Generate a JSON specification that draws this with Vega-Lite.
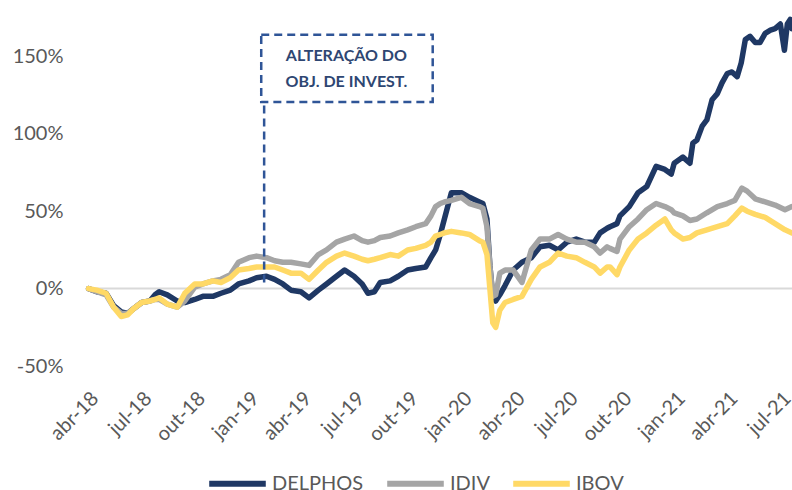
{
"$schema": "https://vega.github.io/schema/vega-lite/v6.json",
"width": 704, "height": 366,
"autosize": {"type": "none"},
"padding": {"left": 88, "top": 0, "right": 0, "bottom": 124},
"background": "white",
"config": {"font": "Lato", "view": {"stroke": null},
  "axis": {"labelFont": "Lato", "labelFontSize": 20, "labelColor": "#595959", "domain": false, "ticks": false, "grid": false}},
"data": {"values": [
{"d":"2018/04/02","s":"DELPHOS","v":0},{"d":"2018/04/16","s":"DELPHOS","v":-2},{"d":"2018/05/02","s":"DELPHOS","v":-3},{"d":"2018/05/15","s":"DELPHOS","v":-11},{"d":"2018/05/28","s":"DELPHOS","v":-15},{"d":"2018/06/08","s":"DELPHOS","v":-16},{"d":"2018/06/18","s":"DELPHOS","v":-13},{"d":"2018/07/02","s":"DELPHOS","v":-9},{"d":"2018/07/16","s":"DELPHOS","v":-8},{"d":"2018/07/25","s":"DELPHOS","v":-4},{"d":"2018/08/01","s":"DELPHOS","v":-2},{"d":"2018/08/15","s":"DELPHOS","v":-4},{"d":"2018/09/01","s":"DELPHOS","v":-8},{"d":"2018/09/14","s":"DELPHOS","v":-9},{"d":"2018/10/01","s":"DELPHOS","v":-7},{"d":"2018/10/15","s":"DELPHOS","v":-5},{"d":"2018/11/01","s":"DELPHOS","v":-5},{"d":"2018/11/15","s":"DELPHOS","v":-3},{"d":"2018/12/01","s":"DELPHOS","v":-1},{"d":"2018/12/15","s":"DELPHOS","v":3},{"d":"2019/01/02","s":"DELPHOS","v":5},{"d":"2019/01/15","s":"DELPHOS","v":7},{"d":"2019/02/01","s":"DELPHOS","v":8},{"d":"2019/02/15","s":"DELPHOS","v":6},{"d":"2019/03/01","s":"DELPHOS","v":3},{"d":"2019/03/15","s":"DELPHOS","v":-1},{"d":"2019/04/01","s":"DELPHOS","v":-2},{"d":"2019/04/15","s":"DELPHOS","v":-6},{"d":"2019/05/01","s":"DELPHOS","v":-1},{"d":"2019/05/15","s":"DELPHOS","v":3},{"d":"2019/06/01","s":"DELPHOS","v":8},{"d":"2019/06/15","s":"DELPHOS","v":12},{"d":"2019/07/01","s":"DELPHOS","v":8},{"d":"2019/07/15","s":"DELPHOS","v":3},{"d":"2019/07/25","s":"DELPHOS","v":-3},{"d":"2019/08/05","s":"DELPHOS","v":-2},{"d":"2019/08/15","s":"DELPHOS","v":4},{"d":"2019/09/01","s":"DELPHOS","v":5},{"d":"2019/09/15","s":"DELPHOS","v":8},{"d":"2019/10/01","s":"DELPHOS","v":12},{"d":"2019/10/15","s":"DELPHOS","v":13},{"d":"2019/11/01","s":"DELPHOS","v":14},{"d":"2019/11/10","s":"DELPHOS","v":20},{"d":"2019/11/18","s":"DELPHOS","v":25},{"d":"2019/11/26","s":"DELPHOS","v":35},{"d":"2019/12/03","s":"DELPHOS","v":45},{"d":"2019/12/15","s":"DELPHOS","v":62},{"d":"2020/01/01","s":"DELPHOS","v":62},{"d":"2020/01/15","s":"DELPHOS","v":59},{"d":"2020/02/01","s":"DELPHOS","v":56},{"d":"2020/02/07","s":"DELPHOS","v":55},{"d":"2020/02/14","s":"DELPHOS","v":45},{"d":"2020/02/19","s":"DELPHOS","v":15},{"d":"2020/02/24","s":"DELPHOS","v":-5},{"d":"2020/02/29","s":"DELPHOS","v":-8},{"d":"2020/03/07","s":"DELPHOS","v":-4},{"d":"2020/03/16","s":"DELPHOS","v":2},{"d":"2020/03/30","s":"DELPHOS","v":12},{"d":"2020/04/14","s":"DELPHOS","v":17},{"d":"2020/04/30","s":"DELPHOS","v":20},{"d":"2020/05/15","s":"DELPHOS","v":27},{"d":"2020/05/31","s":"DELPHOS","v":28},{"d":"2020/06/15","s":"DELPHOS","v":25},{"d":"2020/06/30","s":"DELPHOS","v":30},{"d":"2020/07/16","s":"DELPHOS","v":32},{"d":"2020/07/31","s":"DELPHOS","v":30},{"d":"2020/08/16","s":"DELPHOS","v":30},{"d":"2020/08/26","s":"DELPHOS","v":36},{"d":"2020/09/07","s":"DELPHOS","v":39},{"d":"2020/09/12","s":"DELPHOS","v":40},{"d":"2020/09/24","s":"DELPHOS","v":42},{"d":"2020/09/29","s":"DELPHOS","v":47},{"d":"2020/10/15","s":"DELPHOS","v":53},{"d":"2020/10/30","s":"DELPHOS","v":62},{"d":"2020/11/14","s":"DELPHOS","v":66},{"d":"2020/11/30","s":"DELPHOS","v":79},{"d":"2020/12/15","s":"DELPHOS","v":77},{"d":"2020/12/26","s":"DELPHOS","v":74},{"d":"2020/12/31","s":"DELPHOS","v":81},{"d":"2021/01/15","s":"DELPHOS","v":85},{"d":"2021/01/27","s":"DELPHOS","v":81},{"d":"2021/02/01","s":"DELPHOS","v":94},{"d":"2021/02/08","s":"DELPHOS","v":96},{"d":"2021/02/17","s":"DELPHOS","v":105},{"d":"2021/02/25","s":"DELPHOS","v":109},{"d":"2021/03/06","s":"DELPHOS","v":122},{"d":"2021/03/15","s":"DELPHOS","v":126},{"d":"2021/03/23","s":"DELPHOS","v":133},{"d":"2021/04/01","s":"DELPHOS","v":139},{"d":"2021/04/09","s":"DELPHOS","v":140},{"d":"2021/04/18","s":"DELPHOS","v":137},{"d":"2021/04/25","s":"DELPHOS","v":146},{"d":"2021/05/02","s":"DELPHOS","v":161},{"d":"2021/05/10","s":"DELPHOS","v":163},{"d":"2021/05/19","s":"DELPHOS","v":159},{"d":"2021/05/27","s":"DELPHOS","v":159},{"d":"2021/06/05","s":"DELPHOS","v":165},{"d":"2021/06/14","s":"DELPHOS","v":167},{"d":"2021/06/22","s":"DELPHOS","v":168},{"d":"2021/07/01","s":"DELPHOS","v":171},{"d":"2021/07/08","s":"DELPHOS","v":154},{"d":"2021/07/13","s":"DELPHOS","v":171},{"d":"2021/07/18","s":"DELPHOS","v":174},{"d":"2021/07/21","s":"DELPHOS","v":168},
{"d":"2018/04/02","s":"IDIV","v":0},{"d":"2018/04/16","s":"IDIV","v":-2},{"d":"2018/05/02","s":"IDIV","v":-4},{"d":"2018/05/15","s":"IDIV","v":-12},{"d":"2018/05/28","s":"IDIV","v":-16},{"d":"2018/06/08","s":"IDIV","v":-16},{"d":"2018/06/18","s":"IDIV","v":-13},{"d":"2018/07/02","s":"IDIV","v":-9},{"d":"2018/07/16","s":"IDIV","v":-8},{"d":"2018/07/25","s":"IDIV","v":-7},{"d":"2018/08/01","s":"IDIV","v":-7},{"d":"2018/08/15","s":"IDIV","v":-10},{"d":"2018/09/01","s":"IDIV","v":-12},{"d":"2018/09/14","s":"IDIV","v":-8},{"d":"2018/10/01","s":"IDIV","v":1},{"d":"2018/10/15","s":"IDIV","v":3},{"d":"2018/11/01","s":"IDIV","v":5},{"d":"2018/11/15","s":"IDIV","v":6},{"d":"2018/12/01","s":"IDIV","v":9},{"d":"2018/12/15","s":"IDIV","v":17},{"d":"2019/01/02","s":"IDIV","v":20},{"d":"2019/01/15","s":"IDIV","v":21},{"d":"2019/02/01","s":"IDIV","v":20},{"d":"2019/02/15","s":"IDIV","v":18},{"d":"2019/03/01","s":"IDIV","v":17},{"d":"2019/03/15","s":"IDIV","v":17},{"d":"2019/04/01","s":"IDIV","v":16},{"d":"2019/04/15","s":"IDIV","v":15},{"d":"2019/05/01","s":"IDIV","v":22},{"d":"2019/05/15","s":"IDIV","v":25},{"d":"2019/06/01","s":"IDIV","v":30},{"d":"2019/06/15","s":"IDIV","v":32},{"d":"2019/07/01","s":"IDIV","v":34},{"d":"2019/07/15","s":"IDIV","v":31},{"d":"2019/07/25","s":"IDIV","v":30},{"d":"2019/08/05","s":"IDIV","v":31},{"d":"2019/08/15","s":"IDIV","v":33},{"d":"2019/09/01","s":"IDIV","v":34},{"d":"2019/09/15","s":"IDIV","v":36},{"d":"2019/10/01","s":"IDIV","v":38},{"d":"2019/10/15","s":"IDIV","v":40},{"d":"2019/11/01","s":"IDIV","v":42},{"d":"2019/11/10","s":"IDIV","v":47},{"d":"2019/11/18","s":"IDIV","v":53},{"d":"2019/11/26","s":"IDIV","v":55},{"d":"2019/12/03","s":"IDIV","v":56},{"d":"2019/12/15","s":"IDIV","v":57},{"d":"2020/01/01","s":"IDIV","v":59},{"d":"2020/01/15","s":"IDIV","v":55},{"d":"2020/02/01","s":"IDIV","v":53},{"d":"2020/02/07","s":"IDIV","v":52},{"d":"2020/02/14","s":"IDIV","v":40},{"d":"2020/02/19","s":"IDIV","v":15},{"d":"2020/02/24","s":"IDIV","v":-5},{"d":"2020/02/29","s":"IDIV","v":-4},{"d":"2020/03/07","s":"IDIV","v":10},{"d":"2020/03/16","s":"IDIV","v":12},{"d":"2020/03/30","s":"IDIV","v":12},{"d":"2020/04/14","s":"IDIV","v":4},{"d":"2020/04/30","s":"IDIV","v":25},{"d":"2020/05/15","s":"IDIV","v":32},{"d":"2020/05/31","s":"IDIV","v":32},{"d":"2020/06/15","s":"IDIV","v":35},{"d":"2020/06/30","s":"IDIV","v":32},{"d":"2020/07/16","s":"IDIV","v":30},{"d":"2020/07/31","s":"IDIV","v":30},{"d":"2020/08/16","s":"IDIV","v":27},{"d":"2020/08/26","s":"IDIV","v":23},{"d":"2020/09/07","s":"IDIV","v":27},{"d":"2020/09/12","s":"IDIV","v":26},{"d":"2020/09/24","s":"IDIV","v":24},{"d":"2020/09/29","s":"IDIV","v":32},{"d":"2020/10/15","s":"IDIV","v":40},{"d":"2020/10/30","s":"IDIV","v":45},{"d":"2020/11/14","s":"IDIV","v":51},{"d":"2020/11/30","s":"IDIV","v":55},{"d":"2020/12/15","s":"IDIV","v":53},{"d":"2020/12/26","s":"IDIV","v":51},{"d":"2020/12/31","s":"IDIV","v":49},{"d":"2021/01/15","s":"IDIV","v":47},{"d":"2021/01/27","s":"IDIV","v":44},{"d":"2021/02/08","s":"IDIV","v":45},{"d":"2021/02/25","s":"IDIV","v":49},{"d":"2021/03/15","s":"IDIV","v":53},{"d":"2021/04/01","s":"IDIV","v":55},{"d":"2021/04/14","s":"IDIV","v":57},{"d":"2021/04/26","s":"IDIV","v":65},{"d":"2021/05/05","s":"IDIV","v":63},{"d":"2021/05/19","s":"IDIV","v":58},{"d":"2021/06/05","s":"IDIV","v":56},{"d":"2021/06/22","s":"IDIV","v":54},{"d":"2021/07/09","s":"IDIV","v":51},{"d":"2021/07/21","s":"IDIV","v":53},
{"d":"2018/04/02","s":"IBOV","v":0},{"d":"2018/04/16","s":"IBOV","v":-1},{"d":"2018/05/02","s":"IBOV","v":-3},{"d":"2018/05/15","s":"IBOV","v":-12},{"d":"2018/05/28","s":"IBOV","v":-18},{"d":"2018/06/08","s":"IBOV","v":-17},{"d":"2018/06/18","s":"IBOV","v":-13},{"d":"2018/07/02","s":"IBOV","v":-9},{"d":"2018/07/16","s":"IBOV","v":-8},{"d":"2018/07/25","s":"IBOV","v":-7},{"d":"2018/08/01","s":"IBOV","v":-6},{"d":"2018/08/15","s":"IBOV","v":-10},{"d":"2018/09/01","s":"IBOV","v":-12},{"d":"2018/09/14","s":"IBOV","v":-3},{"d":"2018/10/01","s":"IBOV","v":3},{"d":"2018/10/15","s":"IBOV","v":3},{"d":"2018/11/01","s":"IBOV","v":5},{"d":"2018/11/15","s":"IBOV","v":4},{"d":"2018/12/01","s":"IBOV","v":7},{"d":"2018/12/15","s":"IBOV","v":12},{"d":"2019/01/02","s":"IBOV","v":13},{"d":"2019/01/15","s":"IBOV","v":14},{"d":"2019/02/01","s":"IBOV","v":14},{"d":"2019/02/15","s":"IBOV","v":14},{"d":"2019/03/01","s":"IBOV","v":12},{"d":"2019/03/15","s":"IBOV","v":10},{"d":"2019/04/01","s":"IBOV","v":10},{"d":"2019/04/15","s":"IBOV","v":6},{"d":"2019/05/01","s":"IBOV","v":12},{"d":"2019/05/15","s":"IBOV","v":17},{"d":"2019/06/01","s":"IBOV","v":21},{"d":"2019/06/15","s":"IBOV","v":23},{"d":"2019/07/01","s":"IBOV","v":21},{"d":"2019/07/15","s":"IBOV","v":19},{"d":"2019/07/25","s":"IBOV","v":18},{"d":"2019/08/05","s":"IBOV","v":19},{"d":"2019/08/15","s":"IBOV","v":20},{"d":"2019/09/01","s":"IBOV","v":22},{"d":"2019/09/15","s":"IBOV","v":21},{"d":"2019/10/01","s":"IBOV","v":25},{"d":"2019/10/15","s":"IBOV","v":26},{"d":"2019/11/01","s":"IBOV","v":28},{"d":"2019/11/10","s":"IBOV","v":30},{"d":"2019/11/18","s":"IBOV","v":34},{"d":"2019/11/26","s":"IBOV","v":35},{"d":"2019/12/03","s":"IBOV","v":36},{"d":"2019/12/15","s":"IBOV","v":37},{"d":"2020/01/01","s":"IBOV","v":36},{"d":"2020/01/15","s":"IBOV","v":35},{"d":"2020/02/01","s":"IBOV","v":31},{"d":"2020/02/07","s":"IBOV","v":30},{"d":"2020/02/14","s":"IBOV","v":22},{"d":"2020/02/19","s":"IBOV","v":0},{"d":"2020/02/24","s":"IBOV","v":-22},{"d":"2020/02/29","s":"IBOV","v":-25},{"d":"2020/03/07","s":"IBOV","v":-14},{"d":"2020/03/16","s":"IBOV","v":-9},{"d":"2020/03/30","s":"IBOV","v":-7},{"d":"2020/04/14","s":"IBOV","v":-5},{"d":"2020/04/30","s":"IBOV","v":6},{"d":"2020/05/15","s":"IBOV","v":14},{"d":"2020/05/31","s":"IBOV","v":17},{"d":"2020/06/15","s":"IBOV","v":23},{"d":"2020/06/30","s":"IBOV","v":21},{"d":"2020/07/16","s":"IBOV","v":20},{"d":"2020/07/31","s":"IBOV","v":17},{"d":"2020/08/16","s":"IBOV","v":14},{"d":"2020/08/26","s":"IBOV","v":10},{"d":"2020/09/07","s":"IBOV","v":14},{"d":"2020/09/12","s":"IBOV","v":14},{"d":"2020/09/24","s":"IBOV","v":9},{"d":"2020/09/29","s":"IBOV","v":14},{"d":"2020/10/15","s":"IBOV","v":25},{"d":"2020/10/30","s":"IBOV","v":32},{"d":"2020/11/14","s":"IBOV","v":36},{"d":"2020/11/30","s":"IBOV","v":41},{"d":"2020/12/15","s":"IBOV","v":45},{"d":"2020/12/26","s":"IBOV","v":38},{"d":"2020/12/31","s":"IBOV","v":36},{"d":"2021/01/15","s":"IBOV","v":32},{"d":"2021/01/27","s":"IBOV","v":33},{"d":"2021/02/08","s":"IBOV","v":36},{"d":"2021/02/25","s":"IBOV","v":38},{"d":"2021/03/15","s":"IBOV","v":40},{"d":"2021/04/01","s":"IBOV","v":42},{"d":"2021/04/14","s":"IBOV","v":47},{"d":"2021/04/26","s":"IBOV","v":52},{"d":"2021/05/05","s":"IBOV","v":50},{"d":"2021/05/19","s":"IBOV","v":48},{"d":"2021/06/05","s":"IBOV","v":46},{"d":"2021/06/22","s":"IBOV","v":42},{"d":"2021/07/09","s":"IBOV","v":38},{"d":"2021/07/21","s":"IBOV","v":36}
]},
"layer": [
{"data": {"values": [{"z": 0}]},
 "mark": {"type": "rule", "stroke": "#D9D9D9", "strokeWidth": 2},
 "encoding": {"y": {"field": "z", "type": "quantitative", "scale": {"domain": [-50, 186.5], "nice": false, "zero": false}, "axis": {"title": null}}}},
{"transform": [{"filter": "datum.s === 'DELPHOS'"}],
 "mark": {"type": "line", "strokeWidth": 5.5, "strokeJoin": "round", "strokeCap": "round"},
 "encoding": {
  "x": {"field": "d", "type": "temporal", "scale": {"domain": [{"year": 2018, "month": 4, "date": 1}, {"year": 2021, "month": 7, "date": 21}]},
        "axis": {"title": null, "tickCount": {"interval": "month", "step": 3}, "labelAngle": -45, "labelPadding": 22, "labelDx": -3, "labelFlush": false, "labelOverlap": false, "labelBound": false,
                 "labelExpr": "['jan','fev','mar','abr','mai','jun','jul','ago','set','out','nov','dez'][month(datum.value)] + '-' + timeFormat(datum.value, '%y')"}},
  "y": {"field": "v", "type": "quantitative", "scale": {"domain": [-50, 186.5], "nice": false, "zero": false},
        "axis": {"title": null, "values": [-50, 0, 50, 100, 150], "labelExpr": "datum.value + '%'", "labelPadding": 25}},
  "color": {"field": "s", "type": "nominal", "scale": {"domain": ["DELPHOS", "IDIV", "IBOV"], "range": ["#1F3864", "#A5A5A5", "#FFD966"]},
        "legend": {"orient": "none", "legendX": 118, "legendY": 452, "direction": "horizontal", "title": null, "symbolType": "stroke", "symbolStrokeWidth": 6, "symbolSize": 3200, "labelFontSize": 20, "labelColor": "#595959", "labelFont": "Lato", "columnPadding": 11, "labelOffset": 3, "labelLimit": 300}}}},
{"transform": [{"filter": "datum.s === 'IDIV'"}],
 "mark": {"type": "line", "strokeWidth": 5.5, "strokeJoin": "round", "strokeCap": "round"},
 "encoding": {
  "x": {"field": "d", "type": "temporal", "scale": {"domain": [{"year": 2018, "month": 4, "date": 1}, {"year": 2021, "month": 7, "date": 21}]}, "axis": {"title": null}},
  "y": {"field": "v", "type": "quantitative", "scale": {"domain": [-50, 186.5], "nice": false, "zero": false}, "axis": {"title": null}},
  "color": {"field": "s", "type": "nominal", "scale": {"domain": ["DELPHOS", "IDIV", "IBOV"], "range": ["#1F3864", "#A5A5A5", "#FFD966"]}}}},
{"transform": [{"filter": "datum.s === 'IBOV'"}],
 "mark": {"type": "line", "strokeWidth": 5.5, "strokeJoin": "round", "strokeCap": "round"},
 "encoding": {
  "x": {"field": "d", "type": "temporal", "scale": {"domain": [{"year": 2018, "month": 4, "date": 1}, {"year": 2021, "month": 7, "date": 21}]}, "axis": {"title": null}},
  "y": {"field": "v", "type": "quantitative", "scale": {"domain": [-50, 186.5], "nice": false, "zero": false}, "axis": {"title": null}},
  "color": {"field": "s", "type": "nominal", "scale": {"domain": ["DELPHOS", "IDIV", "IBOV"], "range": ["#1F3864", "#A5A5A5", "#FFD966"]}}}},
{"data": {"values": [{"a": "2019/01/23", "b": "2019/11/13", "lo": 120.6, "hi": 164}]},
 "mark": {"type": "rect", "filled": false, "stroke": "#2F5597", "strokeWidth": 2.5, "strokeDash": [8, 5]},
 "encoding": {
  "x": {"field": "a", "type": "temporal", "scale": {"domain": [{"year": 2018, "month": 4, "date": 1}, {"year": 2021, "month": 7, "date": 21}]}, "axis": {"title": null}},
  "x2": {"field": "b"},
  "y": {"field": "lo", "type": "quantitative", "scale": {"domain": [-50, 186.5], "nice": false, "zero": false}, "axis": {"title": null}},
  "y2": {"field": "hi"}}},
{"data": {"values": [{"a": "2019/01/28", "lo": 4, "hi": 120.6}]},
 "mark": {"type": "rule", "stroke": "#2F5597", "strokeWidth": 2.5, "strokeDash": [8, 5]},
 "encoding": {
  "x": {"field": "a", "type": "temporal", "scale": {"domain": [{"year": 2018, "month": 4, "date": 1}, {"year": 2021, "month": 7, "date": 21}]}, "axis": {"title": null}},
  "y": {"field": "lo", "type": "quantitative", "scale": {"domain": [-50, 186.5], "nice": false, "zero": false}, "axis": {"title": null}},
  "y2": {"field": "hi"}}},
{"data": {"values": [{"a": "2019/06/18", "y": 150, "t": "ALTERAÇÃO DO"}, {"a": "2019/06/18", "y": 133.5, "t": "OBJ. DE INVEST."}]},
 "mark": {"type": "text", "font": "Lato", "fontWeight": "bold", "fontSize": 16, "color": "#2E4672", "align": "center", "baseline": "middle"},
 "encoding": {
  "x": {"field": "a", "type": "temporal", "scale": {"domain": [{"year": 2018, "month": 4, "date": 1}, {"year": 2021, "month": 7, "date": 21}]}, "axis": {"title": null}},
  "y": {"field": "y", "type": "quantitative", "scale": {"domain": [-50, 186.5], "nice": false, "zero": false}, "axis": {"title": null}},
  "text": {"field": "t"}}}
]
}
